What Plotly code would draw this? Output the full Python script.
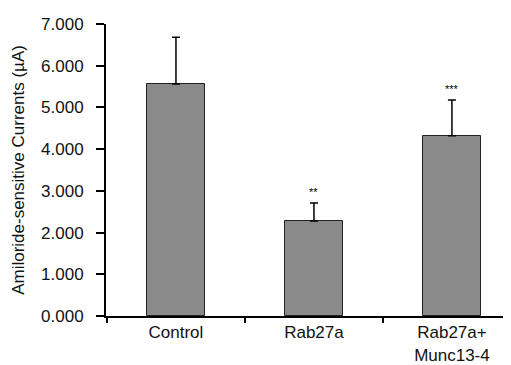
import plotly.graph_objects as go

categories = ["Control", "Rab27a", "Rab27a+<br>Munc13-4"]
means = [5.56, 2.28, 4.32]
errors = [1.12, 0.43, 0.86]
stars = ["", "**", "***"]
y_ticks = [0, 1, 2, 3, 4, 5, 6, 7]

fig = go.Figure()
fig.add_trace(go.Bar(
    x=categories, y=means, width=0.42,
    marker=dict(color="#8a8a8a", line=dict(color="#222222", width=1)),
    error_y=dict(type="data", array=errors, symmetric=False, arrayminus=[0] * len(errors),
                 color="black", thickness=1.5, width=4),
    showlegend=False,
))

for c, m, e, s in zip(categories, means, errors, stars):
    if s:
        fig.add_annotation(x=c, y=m + e, text=s, showarrow=False, yshift=11,
                           font=dict(size=11, color="#000000"))

fig.update_layout(
    width=511, height=365,
    margin=dict(l=98, r=0, t=16, b=57),
    paper_bgcolor="white", plot_bgcolor="white",
    font=dict(family="Liberation Sans, Arial, sans-serif", size=15, color="#111111"),
    bargap=0,
)
fig.update_xaxes(
    type="category", range=[-0.507, 2.486],
    showline=True, linecolor="black", linewidth=2,
    ticks="outside", tickson="boundaries", ticklen=5, tickwidth=1.5, tickcolor="black",
    showgrid=False, zeroline=False,
    tickfont=dict(size=17),
)
fig.update_yaxes(
    range=[0, 7], tickvals=y_ticks, tickformat=".3f",
    showline=True, linecolor="black", linewidth=2,
    ticks="outside", ticklen=8, tickwidth=1.5, tickcolor="black",
    ticklabelstandoff=9,
    showgrid=False, zeroline=False,
    title=dict(text="Amiloride-sensitive Currents (µA)", standoff=12, font=dict(size=17)),
    tickfont=dict(size=17),
)

fig.write_html("out.html")
